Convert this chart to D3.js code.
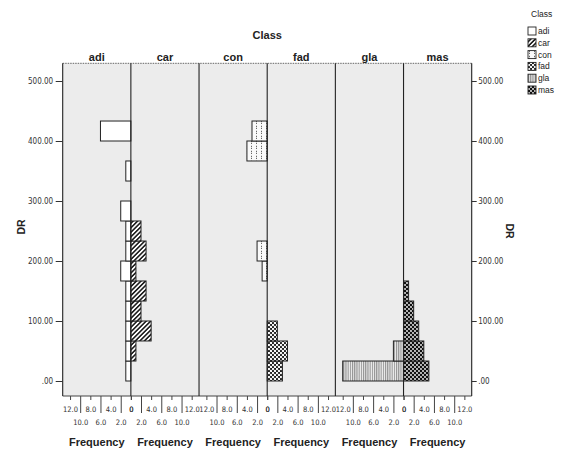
<!DOCTYPE html>
<html>
<head>
<meta charset="utf-8">
<script src="https://cdn.jsdelivr.net/npm/d3@7"></script>
<style>
  body { margin: 0; background: #fff; }
  svg { display: block; }
  .narrow { font-family: "Liberation Sans Narrow", "Arial Narrow", "DejaVu Sans Condensed", "Liberation Sans", sans-serif; }
  .sans { font-family: "Liberation Sans", Arial, sans-serif; }
</style>
</head>
<body>
<svg id="chart" width="562" height="450"></svg>
<script>
// Class panels, left to right
const classes = ["adi", "car", "con", "fad", "gla", "mas"];
// Panels whose frequency axis runs right-to-left (bars grow toward the left)
const mirroredClasses = ["adi", "con", "gla"];

// DR histogram bin edges
const drBinEdges = [0, 33.3, 66.7, 100, 133.3, 166.7, 200, 233.3, 266.7, 300, 333.3, 366.7, 400, 433.3];

// Frequency per DR bin for each class
const adiFreq = [1, 1, 1, 1, 1, 2, 1, 1, 2, 0, 1, 0, 6];
const carFreq = [0, 1, 4, 2, 3, 1, 3, 2, 0, 0, 0, 0, 0];
const conFreq = [0, 0, 0, 0, 0, 1, 2, 0, 0, 0, 0, 4, 3];
const fadFreq = [3, 4, 2, 0, 0, 0, 0, 0, 0, 0, 0, 0, 0];
const glaFreq = [12, 2, 0, 0, 0, 0, 0, 0, 0, 0, 0, 0, 0];
const masFreq = [5, 4, 3, 2, 1, 0, 0, 0, 0, 0, 0, 0, 0];

// Axis ticks
const drTicks = [0, 100, 200, 300, 400, 500];
const drTickLabels = [".00", "100.00", "200.00", "300.00", "400.00", "500.00"];
const freqTicksUpper = [0, 4, 8, 12];
const freqTicksLower = [2, 6, 10];
const freqTickLabels = { 0: "0", 2: "2.0", 4: "4.0", 6: "6.0", 8: "8.0", 10: "10.0", 12: "12.0" };

const freqByClass = { adi: adiFreq, car: carFreq, con: conFreq, fad: fadFreq, gla: glaFreq, mas: masFreq };

const svg = d3.select("#chart");
const plot = { left: 62.7, right: 471.7, top: 63.3, bottom: 396 };
const freqMax = 13.45;

// ---- fill patterns ----
const defs = svg.append("defs");
function pattern(id, w, h, draw, transform) {
  const p = defs.append("pattern")
    .attr("id", id)
    .attr("patternUnits", "userSpaceOnUse")
    .attr("width", w).attr("height", h);
  if (transform) p.attr("patternTransform", transform);
  draw(p, w, h);
}
pattern("p-adi", 4, 4, (p, w, h) => {
  p.append("rect").attr("width", w).attr("height", h).attr("fill", "#fff");
});
pattern("p-car", 3.2, 3.2, (p, w, h) => {
  p.append("rect").attr("width", w).attr("height", h).attr("fill", "#fff");
  p.append("line").attr("x1", 0.8).attr("y1", 0).attr("x2", 0.8).attr("y2", h)
    .attr("stroke", "#111").attr("stroke-width", 1.5);
}, "rotate(45)");
pattern("p-con", 5, 5, (p, w, h) => {
  p.append("rect").attr("width", w).attr("height", h).attr("fill", "#fafafa");
  p.append("rect").attr("x", 1).attr("y", 0.8).attr("width", 1).attr("height", 1).attr("fill", "#444");
  p.append("rect").attr("x", 1).attr("y", 2.8).attr("width", 1).attr("height", 1).attr("fill", "#444");
});
pattern("p-fad", 4, 4, (p, w, h) => {
  p.append("rect").attr("width", w).attr("height", h).attr("fill", "#222");
  p.append("circle").attr("cx", 1).attr("cy", 1).attr("r", 1.15).attr("fill", "#fff");
  p.append("circle").attr("cx", 3).attr("cy", 3).attr("r", 1.15).attr("fill", "#fff");
});
pattern("p-gla", 2.2, 4, (p, w, h) => {
  p.append("rect").attr("width", w).attr("height", h).attr("fill", "#f2f2f2");
  p.append("line").attr("x1", 0.6).attr("y1", 0).attr("x2", 0.6).attr("y2", h)
    .attr("stroke", "#777").attr("stroke-width", 0.9);
});
pattern("p-mas", 4, 4, (p, w, h) => {
  p.append("rect").attr("width", w).attr("height", h).attr("fill", "#111");
  p.append("circle").attr("cx", 1).attr("cy", 1).attr("r", 0.9).attr("fill", "#fff");
  p.append("circle").attr("cx", 3).attr("cy", 3).attr("r", 0.9).attr("fill", "#fff");
});

// ---- scales ----
const y = d3.scaleLinear().domain([-25, 529.5]).range([plot.bottom, plot.top]);
const panel = d3.scaleBand().domain(classes).range([plot.left, plot.right]).padding(0);

function freqScale(cls) {
  const x0 = panel(cls), x1 = x0 + panel.bandwidth();
  const s = d3.scaleLinear().domain([0, freqMax]);
  return mirroredClasses.includes(cls) ? s.range([x1, x0]) : s.range([x0, x1]);
}

// ---- plot background ----
svg.append("rect")
  .attr("x", plot.left).attr("y", plot.top)
  .attr("width", plot.right - plot.left).attr("height", plot.bottom - plot.top)
  .attr("fill", "#ececec");

// ---- bars ----
classes.forEach(cls => {
  const xs = freqScale(cls);
  const rows = freqByClass[cls]
    .map((f, i) => ({ f, lo: drBinEdges[i], hi: drBinEdges[i + 1] }))
    .filter(d => d.f > 0);
  svg.append("g").selectAll("rect").data(rows).join("rect")
    .attr("x", d => Math.min(xs(0), xs(d.f)))
    .attr("width", d => Math.abs(xs(d.f) - xs(0)))
    .attr("y", d => y(d.hi))
    .attr("height", d => y(d.lo) - y(d.hi))
    .attr("fill", `url(#p-${cls})`)
    .attr("stroke", "#222")
    .attr("stroke-width", 1);
});

// ---- frame and panel dividers ----
const frame = svg.append("g").attr("stroke", "#222").attr("fill", "none");
frame.append("line").attr("x1", plot.left).attr("x2", plot.right)
  .attr("y1", plot.top).attr("y2", plot.top).attr("stroke", "#666").attr("stroke-dasharray", "1.5,1");
frame.append("line").attr("x1", plot.left).attr("x2", plot.right)
  .attr("y1", plot.bottom).attr("y2", plot.bottom).attr("stroke", "#444");
classes.forEach(cls => {
  frame.append("line").attr("x1", panel(cls)).attr("x2", panel(cls))
    .attr("y1", plot.top).attr("y2", plot.bottom).attr("stroke-width", 1.1);
});
frame.append("line").attr("x1", plot.right).attr("x2", plot.right)
  .attr("y1", plot.top).attr("y2", plot.bottom).attr("stroke-width", 1.1);

// ---- DR axes ----
const drFmt = v => drTickLabels[drTicks.indexOf(v)];
const leftAxis = svg.append("g").attr("transform", `translate(${plot.left},0)`)
  .call(d3.axisLeft(y).tickValues(drTicks).tickFormat(drFmt).tickSize(7).tickPadding(2.5));
const rightAxis = svg.append("g").attr("transform", `translate(${plot.right},0)`)
  .call(d3.axisRight(y).tickValues(drTicks).tickFormat(drFmt).tickSize(5).tickPadding(1.5));
[leftAxis, rightAxis].forEach(g => {
  g.select(".domain").remove();
  g.selectAll("line").attr("stroke", "#333");
  g.selectAll("text").attr("class", "narrow").attr("font-size", 8).attr("fill", "#333");
});

// ---- frequency axes ----
classes.forEach(cls => {
  const xs = freqScale(cls);
  const upper = svg.append("g").attr("transform", `translate(0,${plot.bottom})`)
    .call(d3.axisBottom(xs).tickValues(freqTicksUpper).tickFormat(v => freqTickLabels[v])
      .tickSize(4).tickPadding(6.7));
  const lower = svg.append("g").attr("transform", `translate(0,${plot.bottom})`)
    .call(d3.axisBottom(xs).tickValues(freqTicksLower).tickFormat(v => freqTickLabels[v])
      .tickSize(17).tickPadding(6.7));
  [upper, lower].forEach(g => {
    g.select(".domain").remove();
    g.selectAll("line").attr("stroke", "#444");
    g.selectAll("text").attr("class", "narrow").attr("font-size", 7.5).attr("fill", "#333");
  });
  svg.append("text").attr("class", "sans")
    .attr("x", panel(cls) + panel.bandwidth() / 2).attr("y", 446)
    .attr("text-anchor", "middle").attr("font-size", 11).attr("font-weight", "bold")
    .attr("fill", "#222").text("Frequency");
  // panel header
  svg.append("text").attr("class", "sans")
    .attr("x", panel(cls) + panel.bandwidth() / 2).attr("y", 61)
    .attr("text-anchor", "middle").attr("font-size", 11).attr("font-weight", "bold")
    .attr("fill", "#222").text(cls);
});

// ---- titles ----
svg.append("text").attr("class", "sans")
  .attr("x", (plot.left + plot.right) / 2).attr("y", 39)
  .attr("text-anchor", "middle").attr("font-size", 11).attr("font-weight", "bold")
  .attr("fill", "#222").text("Class");
svg.append("text").attr("class", "sans")
  .attr("transform", "translate(25,227) rotate(-90)")
  .attr("text-anchor", "middle").attr("font-size", 10.5).attr("font-weight", "bold")
  .attr("fill", "#222").text("DR");
svg.append("text").attr("class", "sans")
  .attr("transform", "translate(506,231) rotate(90)")
  .attr("text-anchor", "middle").attr("font-size", 10.5).attr("font-weight", "bold")
  .attr("fill", "#222").text("DR");

// ---- legend ----
const legend = svg.append("g").attr("transform", "translate(528,0)");
legend.append("text").attr("class", "sans").attr("x", 3).attr("y", 17)
  .attr("font-size", 8.5).attr("fill", "#222").text("Class");
classes.forEach((cls, i) => {
  const cy = 31 + i * 11.8;
  legend.append("rect").attr("x", 0).attr("y", cy - 4).attr("width", 8).attr("height", 8)
    .attr("fill", `url(#p-${cls})`).attr("stroke", "#222").attr("stroke-width", 0.9);
  legend.append("text").attr("class", "sans").attr("x", 10).attr("y", cy + 3)
    .attr("font-size", 8.5).attr("fill", "#222").text(cls);
});
</script>
</body>
</html>
